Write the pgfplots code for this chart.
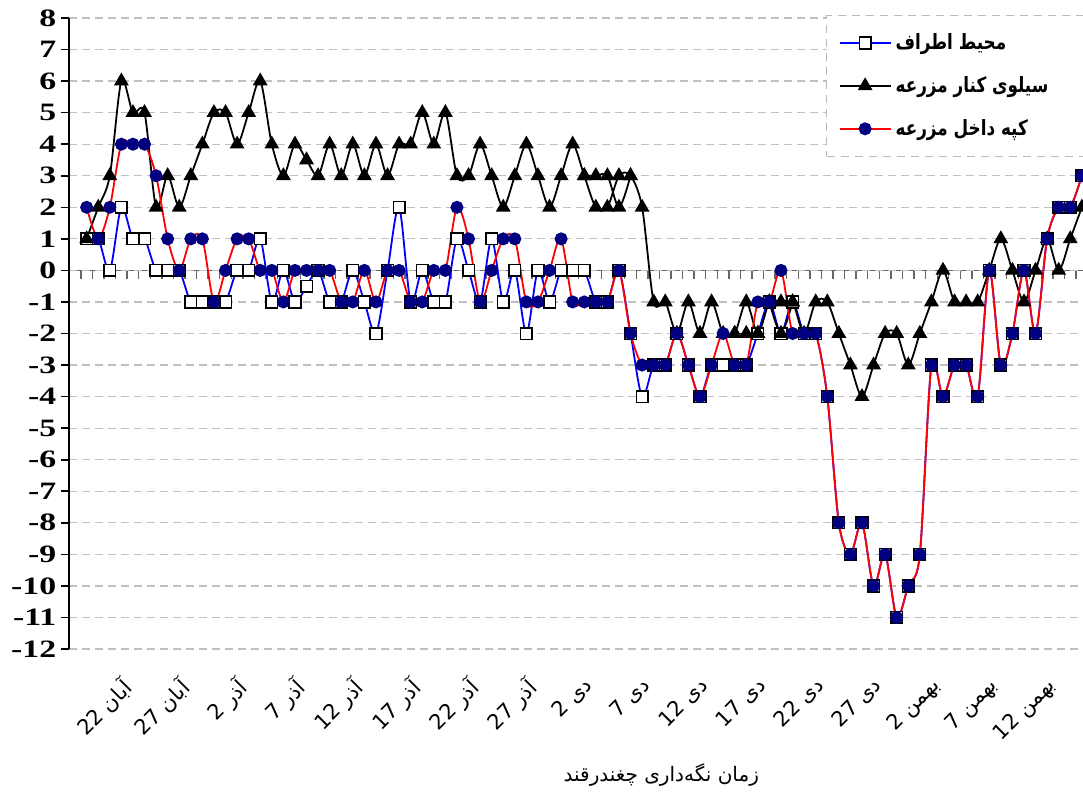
\documentclass[border=0pt]{standalone}
\usepackage{pgfplots}
\usepackage{pgfplotstable}
\pgfplotsset{compat=1.18}
\usepackage{fontspec}
\setmainfont{Liberation Serif}
\newfontfamily\arabicfont[Script=Arabic]{DejaVu Sans}
\newfontfamily\legendfont[Script=Arabic, FakeStretch=0.8]{DejaVu Sans}
\newfontfamily\tickfont[FakeStretch=1.35]{Liberation Serif}
\TeXXeTstate=1
\definecolor{navydot}{RGB}{0,0,128}
\definecolor{gridgray}{RGB}{192,192,192}

\pgfplotstableread{
k blue red black
0 1 2 1
1 1 1 2
2 0 2 3
3 2 4 6
4 1 4 5
5 1 4 5
6 0 3 2
7 0 1 3
8 0 0 2
9 -1 1 3
10 -1 1 4
11 -1 -1 5
12 -1 0 5
13 0 1 4
14 0 1 5
15 1 0 6
16 -1 0 4
17 0 -1 3
18 -1 0 4
19 -0.5 0 3.5
20 0 0 3
21 -1 0 4
22 -1 -1 3
23 0 -1 4
24 -1 0 3
25 -2 -1 4
26 0 0 3
27 2 0 4
28 -1 -1 4
29 0 -1 5
30 -1 0 4
31 -1 0 5
32 1 2 3
33 0 1 3
34 -1 -1 4
35 1 0 3
36 -1 1 2
37 0 1 3
38 -2 -1 4
39 0 -1 3
40 -1 0 2
41 0 1 3
42 0 -1 4
43 0 -1 3
44 -1 -1 2
45 -1 -1 2
46 0 0 3
47 -2 -2 3
48 -4 -3 2
49 -3 -3 -1
50 -3 -3 -1
51 -2 -2 -2
52 -3 -3 -1
53 -4 -4 -2
54 -3 -3 -1
55 -3 -2 -2
56 -3 -3 -2
57 -3 -3 -1
58 -2 -1 -2
59 -1 -1 -1
60 -2 0 -1
61 -1 -2 -1
62 -2 -2 -2
63 -2 -2 -1
64 -4 -4 -1
65 -8 -8 -2
66 -9 -9 -3
67 -8 -8 -4
68 -10 -10 -3
69 -9 -9 -2
70 -11 -11 -2
71 -10 -10 -3
72 -9 -9 -2
73 -3 -3 -1
74 -4 -4 0
75 -3 -3 -1
76 -3 -3 -1
77 -4 -4 -1
78 0 0 0
79 -3 -3 1
80 -2 -2 0
81 0 0 -1
82 -2 -2 0
83 1 1 1
84 2 2 0
85 2 2 1
86 3 3 2
}\datatable

\begin{document}
\begin{tikzpicture}
\useasboundingbox (-34.65pt,-72.5pt) rectangle (506.85pt,324.5pt);
% zero line with category tick marks
\begin{axis}[at={(0pt,189.3pt)}, anchor=south west, scale only axis,
  width=506.85pt, height=126.2pt, xmin=-1.5, xmax=86.1, ymin=0, ymax=1,
  axis x line*=bottom, axis y line=none,
  xtick={-0.5,0.5,...,85.5}, xticklabels={}, ytick=\empty,
  tick align=outside, major tick length=4.2pt,
  x axis line style={gray!80!black, line width=0.8pt},
  xtick style={gray!80!black, line width=0.7pt}]
\end{axis}
\begin{axis}[at={(0pt,0pt)}, anchor=south west, scale only axis,
  width=506.85pt, height=315.5pt,
  xmin=-1.5, xmax=86.1, ymin=-12, ymax=8, clip=false,
  axis y line*=left, axis x line*=bottom, x axis line style={draw=none},
  y axis line style={black, line width=0.8pt},
  ytick={-12,-11,...,8},
  yticklabels={-12,-11,-10,-9,-8,-7,-6,-5,-4,-3,-2,-1,0,1,2,3,4,5,6,7,8},
  yticklabel style={font=\tickfont\bfseries\fontsize{12.5}{14}\selectfont, xshift=1pt},
  ytick style={black, line width=0.8pt},
  tick align=outside, major tick length=4pt,
  ymajorgrids, grid style={gridgray, line width=0.6pt, dash pattern=on 4pt off 2.5pt},
  xtick={3,8,...,83},
  xticklabels={
    {\beginR آبان 22\endR},{\beginR آبان 27\endR},
    {\beginR آذر 2\endR},{\beginR آذر 7\endR},{\beginR آذر 12\endR},
    {\beginR آذر 17\endR},{\beginR آذر 22\endR},{\beginR آذر 27\endR},
    {\beginR دی 2\endR},{\beginR دی 7\endR},{\beginR دی 12\endR},
    {\beginR دی 17\endR},{\beginR دی 22\endR},{\beginR دی 27\endR},
    {\beginR بهمن 2\endR},{\beginR بهمن 7\endR},{\beginR بهمن 12\endR}},
  xtick style={draw=none},
  x tick label style={xshift=-1pt, yshift=-9pt, rotate=45, anchor=north east, inner sep=0pt,
    font=\arabicfont\fontsize{10.5}{12}\selectfont},
  xlabel={\arabicfont\fontsize{10}{12}\selectfont\beginR زمان نگه‌داری چغندرقند\endR},
  xlabel style={at={(axis description cs:0.584,0)}, anchor=center, yshift=-63pt},
  legend cell align=left,
  legend style={at={(rel axis cs:0.7465,1.005)}, anchor=north west,
    draw=gray!55, line width=0.6pt, dash pattern=on 4pt off 3pt,
    fill=white, inner xsep=6pt, inner ysep=7pt, row sep=8pt,
    font=\legendfont\bfseries\fontsize{10.5}{12.5}\selectfont},
  legend image code/.code={\draw[solid, mark repeat=2, mark phase=2, #1]
    plot coordinates {(0cm,0cm) (0.45cm,0cm) (0.9cm,0cm)};},
]
\addplot[solid, blue, line width=0.9pt, smooth, mark=square*, mark size=2.9pt,
  mark options={solid, fill=white, draw=black, line width=0.8pt}]
  table[x=k, y=blue] {\datatable};
\addlegendentry{\makebox[95pt][l]{\beginR محیط اطراف\endR}}
\addplot[solid, black, line width=0.9pt, smooth, mark=triangle*, mark size=3.4pt,
  mark options={solid, fill=black}]
  table[x=k, y=black] {\datatable};
\addlegendentry{\makebox[95pt][l]{\beginR سیلوی کنار مزرعه\endR}}
\addplot[solid, black, line width=0.9pt, smooth, mark=triangle*, mark size=3.4pt,
  mark options={solid, fill=black}, forget plot]
  coordinates {(43,3) (44,3) (45,3) (46,2) (47,3)};
\addplot[solid, black, line width=0.9pt, smooth, mark=triangle*, mark size=3.4pt,
  mark options={solid, fill=black}, forget plot]
  coordinates {(56,-2) (57,-2) (58,-2)};
\addplot[solid, black, line width=0.9pt, smooth, mark=triangle*, mark size=3.4pt,
  mark options={solid, fill=black}, forget plot]
  coordinates {(59,-1) (60,-2) (61,-1)};
\addplot[solid, red, line width=0.9pt, smooth, mark=*, mark size=2.8pt,
  mark options={solid, fill=navydot, draw=navydot}]
  table[x=k, y=red] {\datatable};
\addlegendentry{\makebox[95pt][l]{\beginR کپه داخل مزرعه\endR}}
\end{axis}
\end{tikzpicture}
\end{document}
